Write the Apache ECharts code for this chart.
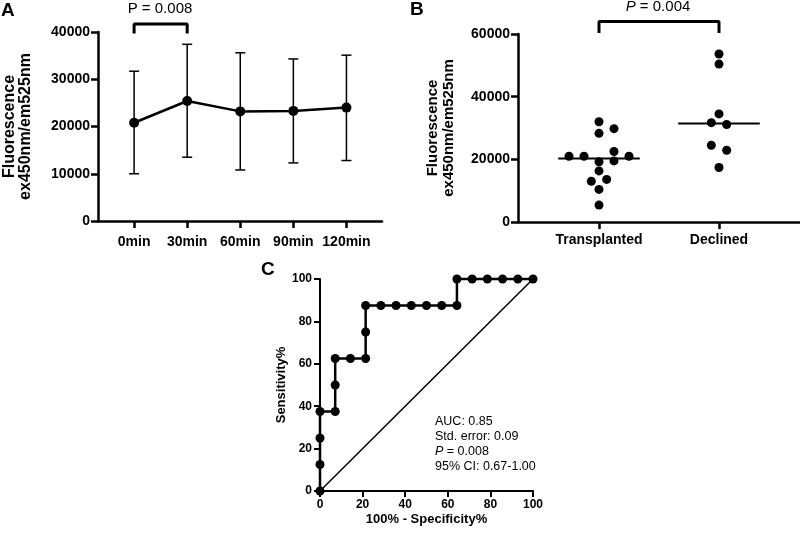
<!DOCTYPE html>
<html>
<head>
<meta charset="utf-8">
<script src="https://cdn.jsdelivr.net/npm/echarts@6/dist/echarts.min.js"></script>
<style>
  html, body { margin: 0; padding: 0; background: #fff; }
  #chart { width: 800px; height: 533px; }
</style>
</head>
<body>
<div id="chart"></div>
<script>
// panel A - fluorescence over time (mean with error bars)
var timeLabels = ['0min', '30min', '60min', '90min', '120min'];
var timeMeans = [20800, 25400, 23200, 23300, 24000];
var timeLow = [10000, 13500, 10800, 12300, 12800];
var timeHigh = [31700, 37400, 35600, 34300, 35100];
var bracketA = [[0, 39700], [0, 41700], [1, 41700], [1, 39700]];

// panel B - single values per group (x = horizontal jitter inside the column)
var groupLabels = ['Transplanted', 'Declined'];
var transplantedVals = [32000, 28300, 29800, 21000, 21000, 22500, 21000, 19200, 19500, 16300, 13000, 13600, 10400, 5400];
var transplantedJitter = [0, 0, 0.125, -0.25, -0.125, 0.125, 0.25, 0, 0.125, 0, -0.064, 0.064, 0, 0];
var declinedVals = [53600, 50400, 34500, 31700, 31100, 24500, 22900, 17400];
var declinedJitter = [0, 0, 0, -0.064, 0.064, -0.064, 0.064, 0];
var bracketB = [[0, 60300], [0, 64000], [1, 64000], [1, 60300]];

// panel C - ROC curve
var rocX = [0, 0, 0, 0, 7.14, 7.14, 7.14, 14.29, 21.43, 21.43, 21.43, 28.57, 35.71, 42.86, 50, 57.14, 64.29, 64.29, 71.43, 78.57, 85.71, 92.86, 100];
var rocY = [0, 12.5, 25, 37.5, 37.5, 50, 62.5, 62.5, 62.5, 75, 87.5, 87.5, 87.5, 87.5, 87.5, 87.5, 87.5, 100, 100, 100, 100, 100, 100];

var F = 'Liberation Sans, Arial, Helvetica, sans-serif';

function median(arr) {
  var s = arr.slice().sort(function (a, b) { return a - b; });
  var m = Math.floor(s.length / 2);
  return s.length % 2 ? s[m] : (s[m - 1] + s[m]) / 2;
}

function axisBase(w, tickLen, fontSize) {
  return {
    axisLine: { onZero: false, lineStyle: { color: '#000', width: w } },
    axisTick: { length: tickLen, lineStyle: { color: '#000', width: w } },
    axisLabel: {
      color: '#000', fontWeight: 'bold', fontSize: fontSize, fontFamily: F,
      formatter: function (v) { return String(v); }
    },
    splitLine: { show: false }
  };
}

function merge(a, b) {
  for (var k in b) a[k] = b[k];
  return a;
}

function errorBar(params, api) {
  var x = api.value(0);
  var lo = api.coord([x, api.value(1)]);
  var hi = api.coord([x, api.value(2)]);
  var w = 5;
  var st = { stroke: '#000', lineWidth: 1.5 };
  return {
    type: 'group',
    children: [
      { type: 'line', shape: { x1: hi[0], y1: hi[1], x2: lo[0], y2: lo[1] }, style: st },
      { type: 'line', shape: { x1: hi[0] - w, y1: hi[1], x2: hi[0] + w, y2: hi[1] }, style: st },
      { type: 'line', shape: { x1: lo[0] - w, y1: lo[1], x2: lo[0] + w, y2: lo[1] }, style: st }
    ]
  };
}

function medianLine(params, api) {
  var x = api.value(0);
  var y = api.value(1);
  var a = api.coord([x - 0.34, y]);
  var b = api.coord([x + 0.34, y]);
  return {
    type: 'line',
    shape: { x1: a[0], y1: a[1], x2: b[0], y2: b[1] },
    style: { stroke: '#000', lineWidth: 2 }
  };
}

var chart = echarts.init(document.getElementById('chart'));

var option = {
  backgroundColor: '#fff',
  animation: false,
  grid: [
    { left: 98, top: 32, width: 284, height: 189, outerBoundsMode: 'none' },
    { left: 518, top: 34, width: 282, height: 188, outerBoundsMode: 'none' },
    { left: 320, top: 279, width: 213, height: 212, outerBoundsMode: 'none' }
  ],
  xAxis: [
    merge(axisBase(2.5, 7, 14), {
      gridIndex: 0, type: 'value', min: -0.68, max: 4.67,
      axisTick: { length: 7, lineStyle: { color: '#000', width: 2.5 }, customValues: [0, 1, 2, 3, 4] },
      axisLabel: {
        color: '#000', fontWeight: 'bold', fontSize: 14, fontFamily: F, margin: 14,
        customValues: [0, 1, 2, 3, 4],
        formatter: function (v) { return timeLabels[Math.round(v)]; }
      }
    }),
    merge(axisBase(2.5, 7, 14), {
      gridIndex: 1, type: 'value', min: -0.675, max: 1.675,
      axisTick: { length: 7, lineStyle: { color: '#000', width: 2.5 }, customValues: [0, 1] },
      axisLabel: {
        color: '#000', fontWeight: 'bold', fontSize: 14, fontFamily: F, margin: 11,
        customValues: [0, 1],
        formatter: function (v) { return groupLabels[Math.round(v)]; }
      }
    }),
    merge(axisBase(2, 6, 12), {
      gridIndex: 2, type: 'value', min: 0, max: 100, interval: 20,
      name: '100% - Specificity%', nameLocation: 'middle', nameGap: 22,
      nameTextStyle: { color: '#000', fontWeight: 'bold', fontSize: 13, fontFamily: F }
    })
  ],
  yAxis: [
    merge(axisBase(2.5, 7, 14), {
      gridIndex: 0, type: 'value', min: 0, max: 40000, interval: 10000,
      name: 'Fluorescence\nex450nm/em525nm', nameLocation: 'middle', nameRotate: 90, nameGap: 64,
      nameTextStyle: { color: '#000', fontWeight: 'bold', fontSize: 16, lineHeight: 16, fontFamily: F }
    }),
    merge(axisBase(2.5, 7, 14), {
      gridIndex: 1, type: 'value', min: 0, max: 60000, interval: 20000,
      name: 'Fluorescence\nex450nm/em525nm', nameLocation: 'middle', nameRotate: 90, nameGap: 61,
      nameTextStyle: { color: '#000', fontWeight: 'bold', fontSize: 15, lineHeight: 16, fontFamily: F }
    }),
    merge(axisBase(2, 6, 12), {
      gridIndex: 2, type: 'value', min: 0, max: 100, interval: 20,
      name: 'Sensitivity%', nameLocation: 'middle', nameRotate: 90, nameGap: 31,
      nameTextStyle: { color: '#000', fontWeight: 'bold', fontSize: 13, fontFamily: F }
    })
  ],
  series: [
    {
      type: 'custom', xAxisIndex: 0, yAxisIndex: 0, clip: false,
      renderItem: errorBar,
      data: timeMeans.map(function (m, i) { return [i, timeLow[i], timeHigh[i]]; })
    },
    {
      type: 'line', xAxisIndex: 0, yAxisIndex: 0, clip: false,
      symbol: 'circle', symbolSize: 10,
      lineStyle: { color: '#000', width: 2.5 },
      itemStyle: { color: '#000' },
      data: timeMeans.map(function (m, i) { return [i, m]; })
    },
    {
      type: 'line', xAxisIndex: 0, yAxisIndex: 0, clip: false, showSymbol: false,
      lineStyle: { color: '#000', width: 3 },
      data: bracketA
    },
    {
      type: 'scatter', xAxisIndex: 1, yAxisIndex: 1, clip: false,
      symbolSize: 9, itemStyle: { color: '#000', opacity: 1 },
      data: transplantedVals.map(function (v, i) { return [transplantedJitter[i], v]; })
    },
    {
      type: 'scatter', xAxisIndex: 1, yAxisIndex: 1, clip: false,
      symbolSize: 9, itemStyle: { color: '#000', opacity: 1 },
      data: declinedVals.map(function (v, i) { return [1 + declinedJitter[i], v]; })
    },
    {
      type: 'custom', xAxisIndex: 1, yAxisIndex: 1, clip: false,
      renderItem: medianLine,
      data: [[0, median(transplantedVals)], [1, median(declinedVals)]]
    },
    {
      type: 'line', xAxisIndex: 1, yAxisIndex: 1, clip: false, showSymbol: false,
      lineStyle: { color: '#000', width: 3 },
      data: bracketB
    },
    {
      type: 'line', xAxisIndex: 2, yAxisIndex: 2, clip: false, showSymbol: false,
      lineStyle: { color: '#000', width: 1.5 },
      data: [[0, 0], [100, 100]]
    },
    {
      type: 'line', xAxisIndex: 2, yAxisIndex: 2, clip: false,
      symbol: 'circle', symbolSize: 9,
      lineStyle: { color: '#000', width: 2.5 },
      itemStyle: { color: '#000' },
      data: rocX.map(function (x, i) { return [x, rocY[i]]; })
    }
  ],
  graphic: [
    { type: 'text', left: 1, top: 1, style: { text: 'A', font: 'bold 19px ' + F, fill: '#000' } },
    { type: 'text', left: 410, top: 0, style: { text: 'B', font: 'bold 19px ' + F, fill: '#000' } },
    { type: 'text', left: 261, top: 260, style: { text: 'C', font: 'bold 19px ' + F, fill: '#000' } },
    {
      type: 'text', x: 160, y: 9,
      style: { text: 'P = 0.008', font: '15px ' + F, fill: '#000', align: 'center', verticalAlign: 'middle' }
    },
    {
      type: 'text', x: 658, y: 7,
      style: {
        text: '{i|P}{n| = 0.004}', fill: '#000', align: 'center', verticalAlign: 'middle',
        rich: {
          i: { fontStyle: 'italic', fontSize: 15, fontFamily: F, fill: '#000' },
          n: { fontSize: 15, fontFamily: F, fill: '#000' }
        }
      }
    },
    {
      type: 'text', x: 435, y: 414,
      style: {
        text: '{n|AUC: 0.85}\n{n|Std. error: 0.09}\n{i|P}{n| = 0.008}\n{n|95% CI: 0.67-1.00}',
        fill: '#000',
        rich: {
          i: { fontStyle: 'italic', fontSize: 12.5, lineHeight: 15, fontFamily: F, fill: '#000' },
          n: { fontSize: 12.5, lineHeight: 15, fontFamily: F, fill: '#000' }
        }
      }
    }
  ]
};

chart.setOption(option);
</script>
</body>
</html>
